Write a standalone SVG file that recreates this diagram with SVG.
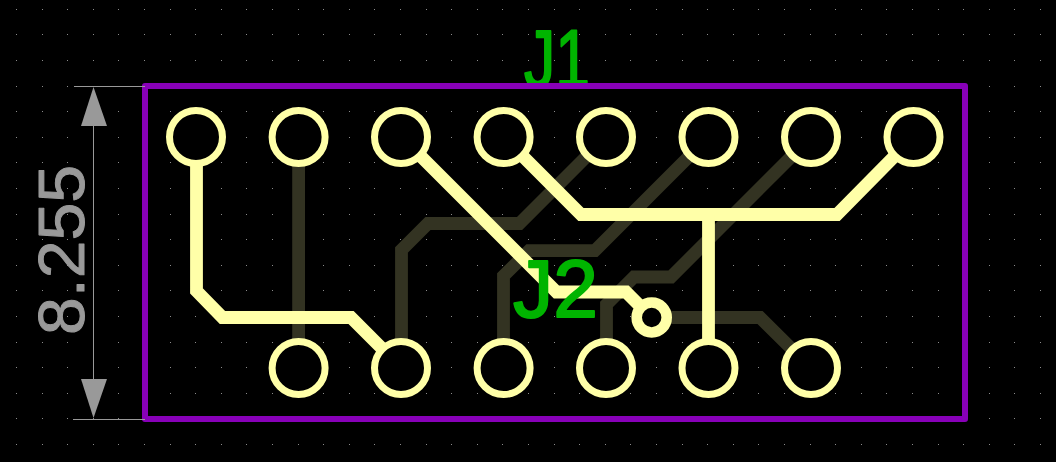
<svg xmlns="http://www.w3.org/2000/svg" width="1056" height="462" viewBox="0 0 1056 462">
<style>
.grid line{stroke:#8c8c8c;stroke-width:1;stroke-dasharray:1 24.6;shape-rendering:crispEdges}
.t{fill:none;stroke-width:12.8;stroke-linejoin:miter;stroke-linecap:butt}
.back{stroke:#333322}
.front{stroke:#ffffa8}
.pad{fill:#000;stroke:#ffffa8;stroke-width:7}
.dim{stroke:#999;stroke-width:1;fill:none}
.arrow{fill:#999}
.ref{font-family:"Liberation Sans",Arial,sans-serif;font-size:82px;fill:#00b400;stroke:#00b400;stroke-width:2;stroke-linejoin:round}
.val{font-family:"Liberation Sans",Arial,sans-serif;font-size:65px;fill:#999;stroke:#999;stroke-width:1;stroke-linejoin:round}
</style>
<rect width="1056" height="462" fill="#000"/>
<g class="grid" id="grid">
<line x1="16" x2="1056" y1="9.5" y2="9.5"/><line x1="16" x2="1056" y1="34.5" y2="34.5"/><line x1="16" x2="1056" y1="60.5" y2="60.5"/><line x1="16" x2="1056" y1="86.5" y2="86.5"/><line x1="16" x2="1056" y1="111.5" y2="111.5"/><line x1="16" x2="1056" y1="137.5" y2="137.5"/><line x1="16" x2="1056" y1="162.5" y2="162.5"/><line x1="16" x2="1056" y1="188.5" y2="188.5"/><line x1="16" x2="1056" y1="214.5" y2="214.5"/><line x1="16" x2="1056" y1="239.5" y2="239.5"/><line x1="16" x2="1056" y1="265.5" y2="265.5"/><line x1="16" x2="1056" y1="290.5" y2="290.5"/><line x1="16" x2="1056" y1="316.5" y2="316.5"/><line x1="16" x2="1056" y1="342.5" y2="342.5"/><line x1="16" x2="1056" y1="367.5" y2="367.5"/><line x1="16" x2="1056" y1="393.5" y2="393.5"/><line x1="16" x2="1056" y1="418.5" y2="418.5"/><line x1="16" x2="1056" y1="444.5" y2="444.5"/>
</g>
<g id="connectors">
<path class="t back" d="M298.6 137V368"/>
<path class="t back" d="M606 137L519.5 223.5H428L401.5 250V368"/>
<path class="t back" d="M708.5 137L594.8 250.7H529L503.5 276V368"/>
<path class="t back" d="M811 137L671 277H634L606.5 304.5V368"/>
<path class="t back" d="M652 317.5H760L811 368"/>
<path class="t front" d="M196.5 137V291L222.5 317.5H351L401.5 368"/>
<path class="t front" d="M401.5 137L556.5 292H626L652 318"/>
<path class="t front" d="M503.6 137L581 214.5H837L913.5 137"/>
<path class="t front" d="M708.5 214.5V368"/>
</g>
<g id="J1-label"><text class="ref" x="524" y="87" textLength="66" lengthAdjust="spacingAndGlyphs">J1</text></g>
<g id="outline"><rect x="145" y="86" width="820" height="333" fill="none" stroke="#8800b8" stroke-width="6" stroke-linejoin="round"/></g>
<g id="dimension">
<path class="dim" d="M74 86.5H145M73 419.5H145M93.5 120V385"/>
<path class="arrow" d="M93.5 87L107 126H81Z"/>
<path class="arrow" d="M93.5 418L107 379H81Z"/>
<text class="val" transform="translate(84 335) rotate(-90)" textLength="170" lengthAdjust="spacingAndGlyphs">8.255</text>
</g>
<g id="J1">
<circle class="pad" cx="196" cy="137" r="26.5"/><circle class="pad" cx="298.6" cy="137" r="26.5"/><circle class="pad" cx="401" cy="137" r="26.5"/><circle class="pad" cx="503.6" cy="137" r="26.5"/><circle class="pad" cx="606" cy="137" r="26.5"/><circle class="pad" cx="708.5" cy="137" r="26.5"/><circle class="pad" cx="811" cy="137" r="26.5"/><circle class="pad" cx="913.5" cy="137" r="26.5"/>
</g>
<g id="J2">
<circle class="pad" cx="298.6" cy="368" r="26.5"/><circle class="pad" cx="401" cy="368" r="26.5"/><circle class="pad" cx="503.6" cy="368" r="26.5"/><circle class="pad" cx="606" cy="368" r="26.5"/><circle class="pad" cx="708.5" cy="368" r="26.5"/><circle class="pad" cx="811" cy="368" r="26.5"/>
</g>
<g id="via"><circle cx="651.7" cy="317.5" r="15" fill="#000" stroke="#ffffa8" stroke-width="10.6"/></g>
<g id="J2-label"><text class="ref" x="513" y="316.5" textLength="85" lengthAdjust="spacingAndGlyphs">J2</text></g>
</svg>
